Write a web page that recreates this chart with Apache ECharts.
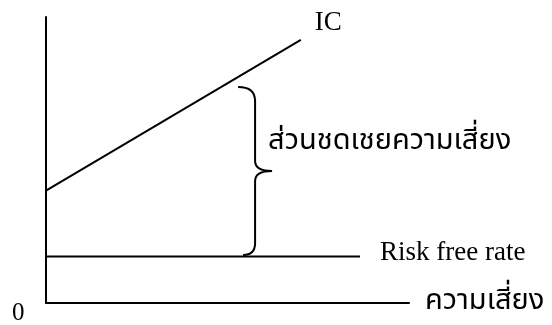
<!DOCTYPE html>
<html>
<head>
<meta charset="utf-8">
<script src="https://cdn.jsdelivr.net/npm/echarts@6/dist/echarts.min.js"></script>
<style>
  html, body { margin: 0; padding: 0; background: #fff; }
  #chart { width: 552px; height: 325px; }
</style>
</head>
<body>
<div id="chart"></div>
<script>
// ข้อมูลของเส้นในแผนภาพ (แกน 0..100 ทั้งสองแกน)
var icLine = [[0, 39.3], [70.2, 92.0]];
var riskFreeLine = [[0, 16.3], [86.5, 16.3]];
// วงเล็บปีกกา: [x, yล่าง, yบน]
var braceData = [[57.6, 16.8, 75.5]];

var icName = 'IC';
var riskFreeName = 'Risk free rate';
var premiumName = 'ส่วนชดเชยความเสี่ยง';
var xAxisName = 'ความเสี่ยง';
var originLabel = '0';

var serifFont = '"Liberation Serif", "Times New Roman", serif';
var thaiFont = '"Noto Sans Thai", "Noto Sans", "DejaVu Sans", sans-serif';

var chart = echarts.init(document.getElementById('chart'));

//วาดวงเล็บปีกกาจากพิกัดของแกน
function renderBrace(params, api) {
    var x = api.value(0);
    var bot = api.coord([x, api.value(1)]);
    var top = api.coord([x, api.value(2)]);
    var mid = (top[1] + bot[1]) / 2;
    var px = top[0];
    var tip = px + 17;
    var path = 'M' + (px - 17) + ' ' + top[1] +
        ' Q' + px + ' ' + top[1] + ' ' + px + ' ' + (top[1] + 14) +
        ' L' + px + ' ' + (mid - 10) +
        ' Q' + px + ' ' + mid + ' ' + tip + ' ' + mid +
        ' Q' + px + ' ' + mid + ' ' + px + ' ' + (mid + 10) +
        ' L' + px + ' ' + (bot[1] - 12) +
        ' Q' + px + ' ' + bot[1] + ' ' + (px - 12) + ' ' + bot[1];
    return {
        type: 'group',
        children: [{
            type: 'path',
            shape: { pathData: path },
            style: { fill: 'none', stroke: '#000', lineWidth: 2 }
        }, {
            type: 'text',
            x: px + 13,
            y: mid - 28,
            style: {
                text: premiumName,
                fontFamily: thaiFont,
                fontSize: 29,
                fill: '#000',
                verticalAlign: 'middle',
                align: 'left'
            }
        }]
    };
}

var option = {
    animation: false,
    backgroundColor: '#fff',
    grid: { left: 46, top: 17, width: 363, height: 286 },
    xAxis: {
        type: 'value', min: 0, max: 100,
        name: xAxisName,
        nameLocation: 'end',
        nameGap: 16,
        nameTextStyle: { fontFamily: thaiFont, fontSize: 29, color: '#000', verticalAlign: 'middle', padding: [18, 0, 0, 0] },
        axisLine: { show: true, onZero: false, lineStyle: { color: '#000', width: 2 } },
        axisTick: { show: false },
        axisLabel: { show: false },
        splitLine: { show: false }
    },
    yAxis: {
        type: 'value', min: 0, max: 100,
        axisLine: { show: true, onZero: false, lineStyle: { color: '#000', width: 2 } },
        axisTick: { show: false },
        axisLabel: { show: false },
        splitLine: { show: false }
    },
    graphic: [{
        type: 'text',
        left: 12,
        top: 301,
        style: { text: originLabel, fontFamily: serifFont, fontSize: 25, fill: '#000' }
    }],
    series: [{
        name: icName,
        type: 'line',
        data: icLine,
        symbol: 'none',
        lineStyle: { color: '#000', width: 2 },
        endLabel: {
            show: true,
            formatter: icName,
            offset: [6, -17],
            fontFamily: serifFont,
            fontSize: 27,
            color: '#000'
        }
    }, {
        name: riskFreeName,
        type: 'line',
        data: riskFreeLine,
        symbol: 'none',
        lineStyle: { color: '#000', width: 2 },
        endLabel: {
            show: true,
            formatter: riskFreeName,
            offset: [12, -3],
            fontFamily: serifFont,
            fontSize: 27,
            color: '#000'
        }
    }, {
        type: 'custom',
        renderItem: renderBrace,
        data: braceData,
        silent: true
    }]
};

chart.setOption(option);
</script>
</body>
</html>
